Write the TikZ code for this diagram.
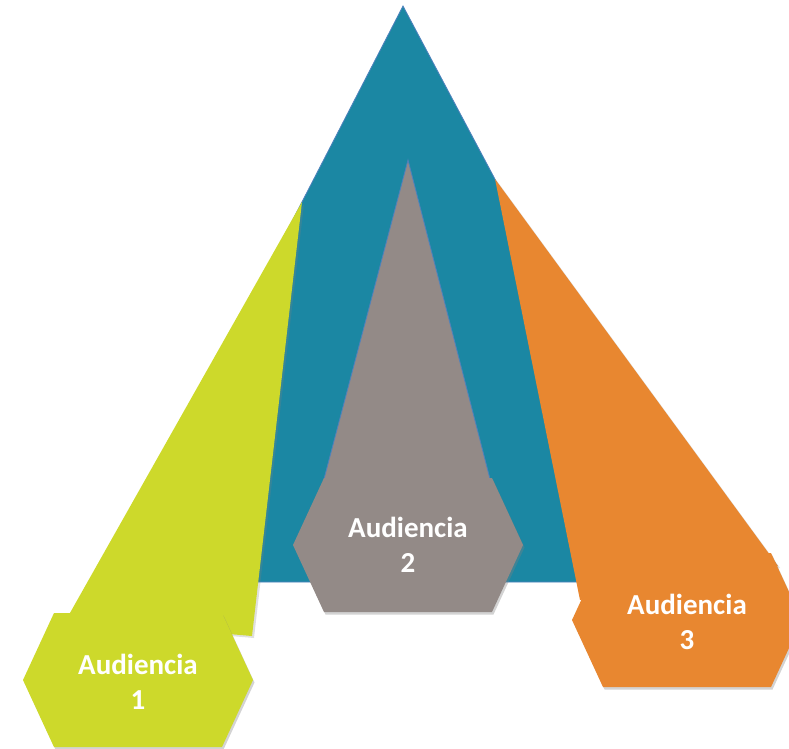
\documentclass[tikz,border=0pt]{standalone}
\usepackage{fontspec}
\setmainfont{Carlito}
\usetikzlibrary{shadows}
\definecolor{tblue}{RGB}{27,135,163}
\definecolor{tgreen}{RGB}{205,217,43}
\definecolor{torange}{RGB}{232,135,48}
\definecolor{tgray}{RGB}{147,138,135}
\definecolor{tline}{RGB}{79,129,189}
\tikzset{
  hexlabel/.style={align=center, text=white, font=\fontsize{29}{35}\selectfont\bfseries, inner sep=0pt},
  hexshadow/.style={drop shadow={opacity=0.35, shadow xshift=1.5pt, shadow yshift=-2.5pt}},
  panel/.style={drop shadow={opacity=0.25, shadow xshift=2pt, shadow yshift=-2pt}}
}
\begin{document}
\begin{tikzpicture}[x=1pt, y=-1pt]
\useasboundingbox (0,0) rectangle (789,748);
% blue triangle
\fill[tblue, draw=tline, line width=0.8pt] (403,6) -- (106,582) -- (709,582) -- cycle;
% green panel
\fill[tgreen, panel] (302,202) -- (252,636) -- (66,620) -- cycle;
% orange panel
\fill[torange, panel] (495,179) -- (778,566) -- (580,600) -- cycle;
% gray triangle
\fill[tgray, draw=tline, line width=0.8pt] (408,160) -- (324,479) -- (490,479) -- cycle;
% hexagons
\begin{scope}[shift={(138,680)}]
  \fill[tgreen, hexshadow] (-115,0) -- (-84,-67) -- (84,-67) -- (115,0) -- (84,67) -- (-84,67) -- cycle;
  \node[hexlabel] (a1) at (0,2) {Audiencia\\1};
\end{scope}
\begin{scope}[shift={(408,545)}]
  \fill[tgray, hexshadow] (-115,0) -- (-84,-67) -- (84,-67) -- (115,0) -- (84,67) -- (-84,67) -- cycle;
  \node[hexlabel] (a2) at (0,0) {Audiencia\\2};
\end{scope}
\begin{scope}[shift={(687,620)}]
  \fill[torange, hexshadow] (-115,0) -- (-84,-67) -- (84,-67) -- (115,0) -- (84,67) -- (-84,67) -- cycle;
  \node[hexlabel] (a3) at (0,2) {Audiencia\\3};
\end{scope}
\end{tikzpicture}
\end{document}
